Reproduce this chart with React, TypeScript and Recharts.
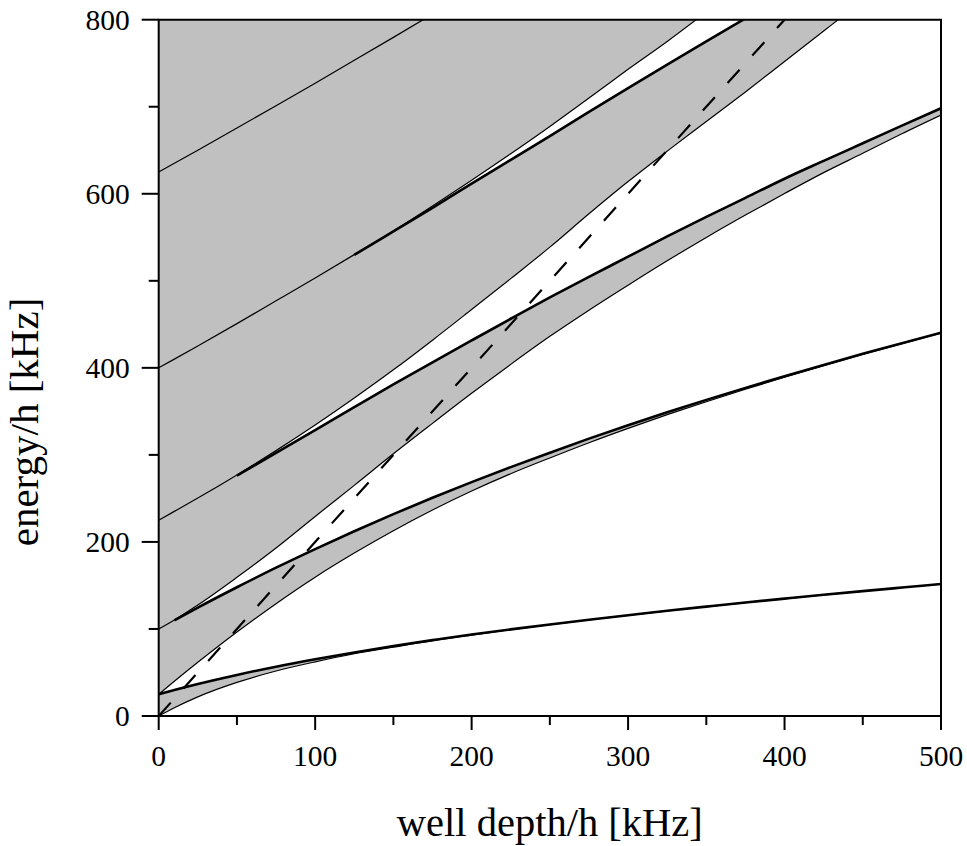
import React from 'react';
import { ComposedChart, Area, Line, XAxis, YAxis, ReferenceArea } from 'recharts';

// well depth / h [kHz]
const wellDepth = [0, 10, 25, 50, 75, 100, 125, 150, 175, 200, 225, 250, 275, 300, 325, 350, 375, 400, 425, 450, 475, 500];

// band edges, energy / h [kHz]
const band1Lower = [0, 9.5, 22.0, 38.6, 51.7, 62.2, 71.5, 79.1, 86.5, 93.0, 99.2, 105.0, 110.5, 115.7, 120.8, 125.6, 130.3, 134.8, 139.2, 143.4, 147.5, 151.6];
const band1Upper = [25, 29.9, 36.8, 47.2, 56.7, 65.2, 73.0, 80.4, 87.2, 93.7, 99.5, 105.2, 110.6, 115.8, 120.9, 125.7, 130.4, 134.9, 139.3, 143.5, 147.6, 151.7];
const band2Lower = [25, 39.9, 61.7, 96.5, 129.1, 159.5, 187.2, 212.9, 236.7, 258.5, 278.4, 296.5, 314.0, 330.5, 346.2, 361.1, 375.4, 389.2, 402.5, 415.4, 427.9, 440.0];
const band2Upper = [100, 109.9, 124.5, 147.9, 170.4, 191.8, 212.3, 231.9, 250.7, 268.7, 285.9, 302.5, 318.7, 334.1, 348.9, 363.2, 377.0, 390.4, 403.4, 416.1, 428.4, 440.4];
const band3Lower = [100, 110.4, 127.5, 159.3, 193.0, 229.3, 265.0, 301.2, 336.2, 370.7, 404.0, 436.2, 466.3, 495.0, 523.0, 549.8, 575.5, 600.3, 624.3, 646.5, 669.0, 690.5];
const band3Upper = [225, 235.1, 250.3, 276.2, 302.3, 328.5, 354.8, 380.9, 406.4, 431.5, 456.4, 480.9, 504.5, 527.7, 551.0, 573.5, 595.3, 617.3, 637.8, 658.0, 678.3, 698.3];
const band4Lower = [225, 235.1, 250.4, 277.0, 304.9, 334.3, 365.3, 397.7, 431.8, 467.0, 502.5, 538.7, 577, 614, 649, 683, 717, 752, 787, 822, null, null];
const band4Upper = [400, 410.0, 425.2, 450.8, 476.9, 503.2, 529.8, 556.8, 583.8, 611.7, 639.0, 666.2, 694.0, 721.5, 748.5, 775.0, 801.5, 827.5, 853, 879, null, null];
const band5Lower = [400, 410.0, 425.2, 450.8, 477.0, 503.3, 530.1, 557.3, 586.0, 615.5, 646.0, 677.4, 710, 743, 775, 808.8, 843, null, null, null, null, null];
const band6Lower = [625, 635.0, 650.1, 675.5, 701.2, 727.1, 753.3, 779.7, 806.4, 833.4, null, null, null, null, null, null, null, null, null, null, null, null];

// well depth from which the upper band edges are drawn as heavy lines
const heavyFrom = { band1: 0, band2: 10, band3: 50, band4: 125 };

// dashed line (top of the potential)
const dashedDepth = [0, 400];
const dashedEnergy = [0, 800];

const energyMax = 800;
const xTicks = [0, 50, 100, 150, 200, 250, 300, 350, 400, 450, 500];
const yTicks = [0, 100, 200, 300, 400, 500, 600, 700, 800];

const rows = wellDepth.map((V, i) => {
  const di = dashedDepth.indexOf(V);
  return {
    V,
    a0: band1Lower[i],
    b1: V >= heavyFrom.band1 ? band1Upper[i] : null,
    a1: band2Lower[i],
    b2: V >= heavyFrom.band2 ? band2Upper[i] : null,
    a2: band3Lower[i],
    b3: V >= heavyFrom.band3 ? band3Upper[i] : null,
    a3: band4Lower[i],
    b4: V >= heavyFrom.band4 ? band4Upper[i] : null,
    a4: band5Lower[i],
    a5: band6Lower[i],
    band1: [band1Lower[i], band1Upper[i]],
    band2: [band2Lower[i], band2Upper[i]],
    band3: [band3Lower[i], band3Upper[i]],
    band4: band4Lower[i] != null && band4Upper[i] != null ? [band4Lower[i], band4Upper[i]] : null,
    band5: band5Lower[i] != null ? [band5Lower[i], energyMax] : null,
    dash: di >= 0 ? dashedEnergy[di] : null,
  };
});

const FONT = "'Liberation Serif', 'Times New Roman', Times, serif";
const GRAY = '#c0c0c0';

const XTick = (props: any) => {
  const { x, y, payload } = props;
  const v = payload.value;
  const major = v % 100 === 0;
  return (
    <g>
      <line x1={x} x2={x} y1={y} y2={y + (major ? 14 : 9)} stroke="#000" strokeWidth={2} />
      {major && (
        <text x={x} y={y + 50} textAnchor="middle" fontSize={29.5} fontFamily={FONT} fill="#000">
          {v}
        </text>
      )}
    </g>
  );
};

const YTick = (props: any) => {
  const { x, y, payload } = props;
  const v = payload.value;
  const major = v % 200 === 0;
  return (
    <g>
      <line x1={x - (major ? 17 : 10)} x2={x} y1={y} y2={y} stroke="#000" strokeWidth={2} />
      {major && (
        <text x={x - 29} y={y + 10.3} textAnchor="end" fontSize={29.5} fontFamily={FONT} fill="#000">
          {v}
        </text>
      )}
    </g>
  );
};

const thin = 1.2;
const heavy = 2.6;

export default function App() {
  return (
    <div style={{ position: 'absolute', left: 0, top: 0, background: '#fff' }}>
      <ComposedChart
        width={967}
        height={846}
        data={rows}
        margin={{ top: 19.7, right: 26, bottom: 70, left: 98.7 }}
      >
        <XAxis
          dataKey="V"
          type="number"
          domain={[0, 500]}
          ticks={xTicks}
          interval={0}
          allowDataOverflow
          axisLine={false}
          tickLine={false}
          tickSize={0}
          tickMargin={0}
          height={60}
          tick={<XTick />}
          label={{
            content: () => (
              <text x={549.8} y={835.5} textAnchor="middle" fontSize={40.5} fontFamily={FONT} fill="#000">
                well depth/h [kHz]
              </text>
            ),
          }}
        />
        <YAxis
          type="number"
          domain={[0, 800]}
          ticks={yTicks}
          interval={0}
          allowDataOverflow
          axisLine={false}
          tickLine={false}
          tickSize={0}
          tickMargin={0}
          width={60}
          tick={<YTick />}
          label={{
            content: () => (
              <text
                x={38}
                y={422}
                transform="rotate(-90, 38, 422)"
                textAnchor="middle"
                fontSize={41}
                fontFamily={FONT}
                fill="#000"
              >
                energy/h [kHz]
              </text>
            ),
          }}
        />

        <Area type="monotone" dataKey="band1" stroke="none" fill={GRAY} fillOpacity={1} isAnimationActive={false} dot={false} activeDot={false} />
        <Area type="monotone" dataKey="band2" stroke="none" fill={GRAY} fillOpacity={1} isAnimationActive={false} dot={false} activeDot={false} />
        <Area type="monotone" dataKey="band3" stroke="none" fill={GRAY} fillOpacity={1} isAnimationActive={false} dot={false} activeDot={false} />
        <Area type="monotone" dataKey="band4" stroke="none" fill={GRAY} fillOpacity={1} isAnimationActive={false} dot={false} activeDot={false} />
        <Area type="monotone" dataKey="band5" stroke="none" fill={GRAY} fillOpacity={1} isAnimationActive={false} dot={false} activeDot={false} />

        <Line type="monotone" dataKey="a0" stroke="#000" strokeWidth={thin} dot={false} activeDot={false} isAnimationActive={false} />
        <Line type="monotone" dataKey="a1" stroke="#000" strokeWidth={thin} dot={false} activeDot={false} isAnimationActive={false} />
        <Line type="monotone" dataKey="a2" stroke="#000" strokeWidth={thin} dot={false} activeDot={false} isAnimationActive={false} />
        <Line type="monotone" dataKey="a3" stroke="#000" strokeWidth={thin} dot={false} activeDot={false} isAnimationActive={false} />
        <Line type="monotone" dataKey="a4" stroke="#000" strokeWidth={thin} dot={false} activeDot={false} isAnimationActive={false} />
        <Line type="monotone" dataKey="a5" stroke="#000" strokeWidth={thin} dot={false} activeDot={false} isAnimationActive={false} />
        <Line type="monotone" dataKey="b1" stroke="#000" strokeWidth={heavy} dot={false} activeDot={false} isAnimationActive={false} />
        <Line type="monotone" dataKey="b2" stroke="#000" strokeWidth={heavy} dot={false} activeDot={false} isAnimationActive={false} />
        <Line type="monotone" dataKey="b3" stroke="#000" strokeWidth={heavy} dot={false} activeDot={false} isAnimationActive={false} />
        <Line type="monotone" dataKey="b4" stroke="#000" strokeWidth={heavy} dot={false} activeDot={false} isAnimationActive={false} />
        <Line type="linear" dataKey="dash" connectNulls stroke="#000" strokeWidth={2.2} strokeDasharray="18 19" dot={false} activeDot={false} isAnimationActive={false} />

        <ReferenceArea x1={0} x2={500} y1={0} y2={800} fill="none" stroke="#000" strokeWidth={2} />
      </ComposedChart>
    </div>
  );
}
